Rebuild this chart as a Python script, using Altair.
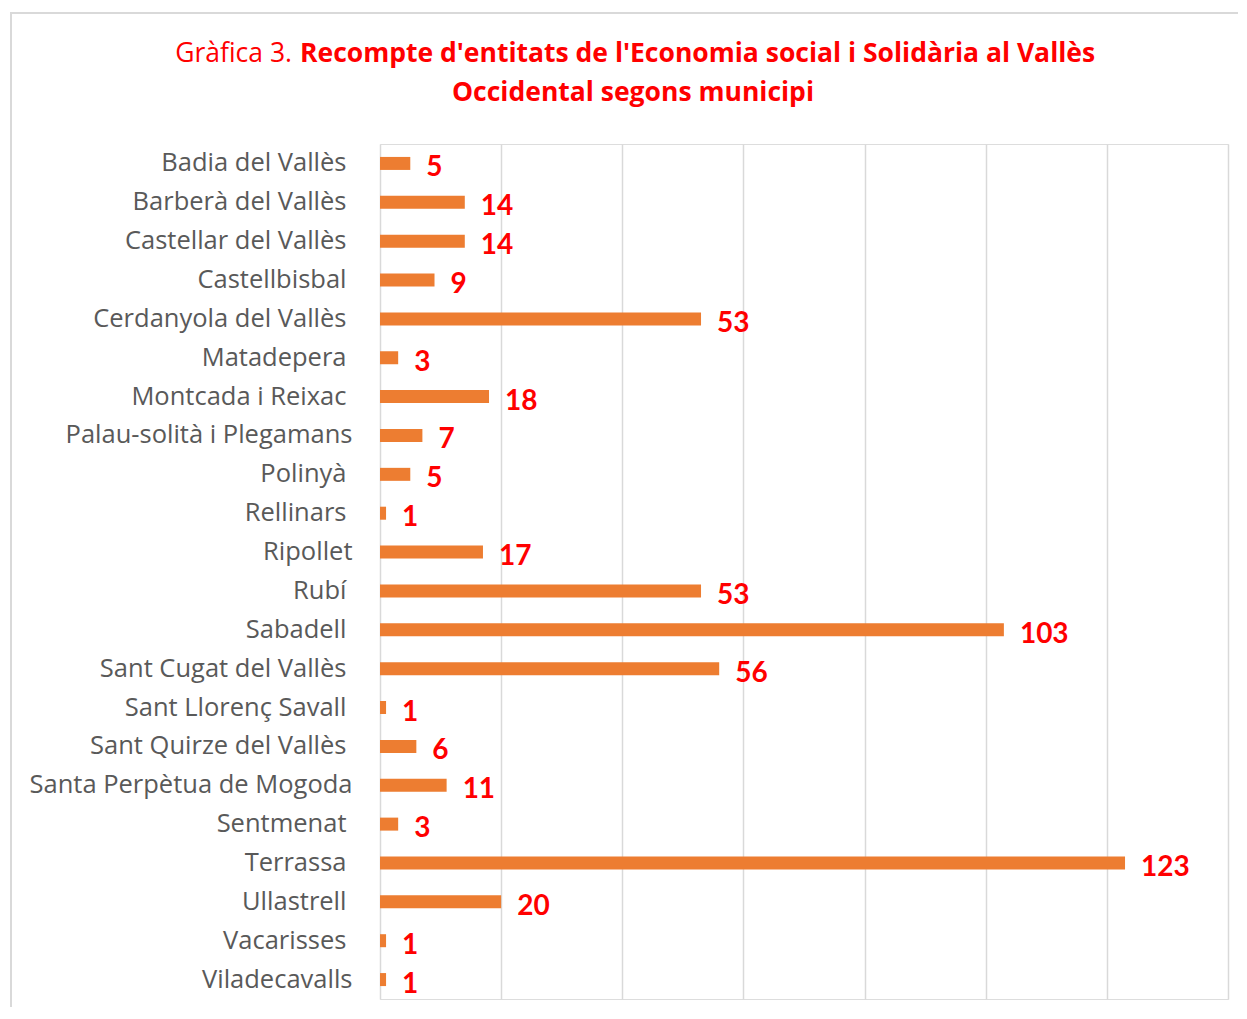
import altair as alt
import pandas as pd

municipis = [
    "Badia del Vallès", "Barberà del Vallès", "Castellar del Vallès", "Castellbisbal",
    "Cerdanyola del Vallès", "Matadepera", "Montcada i Reixac", "Palau-solità i Plegamans",
    "Polinyà", "Rellinars", "Ripollet", "Rubí", "Sabadell", "Sant Cugat del Vallès",
    "Sant Llorenç Savall", "Sant Quirze del Vallès", "Santa Perpètua de Mogoda",
    "Sentmenat", "Terrassa", "Ullastrell", "Vacarisses", "Viladecavalls",
]
entitats = [5, 14, 14, 9, 53, 3, 18, 7, 5, 1, 17, 53, 103, 56, 1, 6, 11, 3, 123, 20, 1, 1]
x_ticks = [0, 20, 40, 60, 80, 100, 120, 140]
# labels without a trailing space in the source chart
no_trailing_space = ["Palau-solità i Plegamans", "Ripollet", "Santa Perpètua de Mogoda", "Viladecavalls"]

title_prefix = "Gràfica 3."
title_line1 = "Recompte d'entitats de l'Economia social i Solidària al Vallès"
title_line2 = "Occidental segons municipi"

df = pd.DataFrame({"municipi": municipis, "entitats": entitats})

LFONT = "Open Sans"
VFONT = "Lato"
TFONT = "Open Sans"
RED = "#FF0000"

lst = "[" + ",".join("'" + s + "'" for s in no_trailing_space) + "]"
test_expr = f"indexof({lst}, datum.label) >= 0"

x_enc = alt.X("entitats:Q", scale=alt.Scale(domain=[0, 140], nice=False),
              axis=alt.Axis(values=x_ticks, labels=False, ticks=False, domain=False,
                            title=None, grid=True, gridColor="#D9D9D9", gridWidth=1.5))
y_enc = alt.Y("municipi:N", sort=None,
              axis=alt.Axis(title=None, ticks=False, domain=False, grid=False,
                            labelFont=LFONT, labelFontSize=25.5, labelColor="#595959",
                            labelLimit=400,
                            labelPadding={"condition": {"test": test_expr, "value": 28}, "value": 34}))

base = alt.Chart(df)
bars = base.mark_bar(color="#ED7D31", size=13).encode(x=x_enc, y=y_enc)
labels = base.mark_text(align="left", baseline="middle", dx=16, dy=5, font=VFONT,
                        fontSize=28, fontWeight="bold", color=RED).encode(
    x="entitats:Q", y=alt.Y("municipi:N", sort=None), text="entitats:Q")

one = alt.Data(values=[{"k": 1}])
frame = alt.Chart(one).mark_rect(fill="white", fillOpacity=0, stroke="#D9D9D9", strokeWidth=2).encode(
    x=alt.value(-369), x2=alt.value(880), y=alt.value(-131), y2=alt.value(890))
t_pre = alt.Chart(one).mark_text(text=title_prefix, align="right", baseline="alphabetic",
                                 font=TFONT, fontSize=26.5, color=RED).encode(
    x=alt.value(-88), y=alt.value(-82))
t_l1 = alt.Chart(one).mark_text(text=title_line1, align="left", baseline="alphabetic",
                                font=TFONT, fontSize=26.5, fontWeight="bold", color=RED).encode(
    x=alt.value(-80), y=alt.value(-82))
t_l2 = alt.Chart(one).mark_text(text=title_line2, align="center", baseline="alphabetic",
                                font=TFONT, fontSize=26.5, fontWeight="bold", color=RED).encode(
    x=alt.value(253), y=alt.value(-43))

chart = alt.layer(frame, bars, labels, t_pre, t_l1, t_l2).properties(
    width=848, height=855,
    autosize=alt.AutoSizeParams(type="none"),
    padding={"left": 372, "top": 136, "right": 10, "bottom": 8},
).configure_view(stroke=None).configure(background="white")

chart.save("out.html", embed_options={"renderer": "svg", "actions": False})
